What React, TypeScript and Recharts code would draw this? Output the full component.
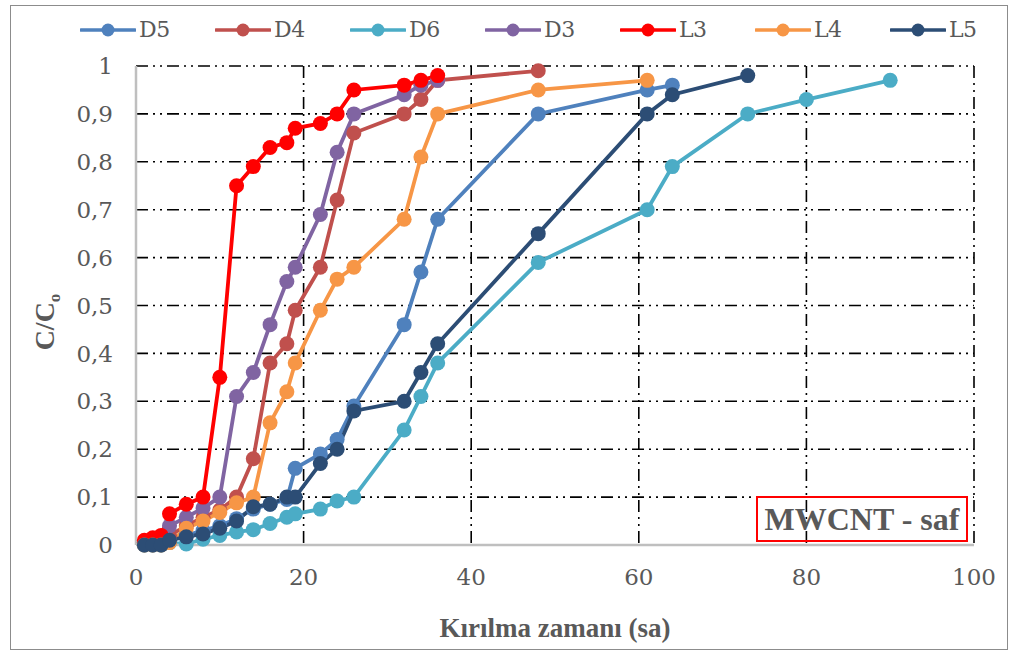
import { LineChart, Line, XAxis, YAxis, CartesianGrid } from "recharts";

// time (sa) values
const tBase = [1, 2, 3, 4, 6, 8, 10, 12, 14, 16, 18, 19, 22, 24, 26, 32, 34, 36];
const tD5 = [...tBase, 48, 61, 64];
const tD4 = [...tBase, 48];
const tD6 = [...tBase, 48, 61, 64, 73, 80, 90];
const tD3 = [...tBase];
const tL3 = [...tBase];
const tL4 = [...tBase, 48, 61];
const tL5 = [...tBase, 48, 61, 64, 73];

// C/C0 values
const cD5 = [0, 0, 0, 0.01, 0.02, 0.03, 0.04, 0.055, 0.075, 0.085, 0.095, 0.16, 0.19, 0.22, 0.29, 0.46, 0.57, 0.68, 0.9, 0.95, 0.96];
const cD4 = [0.005, 0.01, 0.01, 0.02, 0.04, 0.058, 0.073, 0.1, 0.18, 0.38, 0.42, 0.49, 0.58, 0.72, 0.86, 0.9, 0.93, 0.97, 0.99];
const cD6 = [0, 0, 0, 0.005, 0.002, 0.012, 0.02, 0.027, 0.032, 0.045, 0.058, 0.065, 0.075, 0.092, 0.1, 0.24, 0.31, 0.38, 0.59, 0.7, 0.79, 0.9, 0.93, 0.97];
const cD3 = [0.005, 0.005, 0.01, 0.04, 0.058, 0.077, 0.1, 0.31, 0.36, 0.46, 0.55, 0.58, 0.69, 0.82, 0.9, 0.94, 0.96, 0.97];
const cL3 = [0.01, 0.015, 0.02, 0.065, 0.085, 0.1, 0.35, 0.75, 0.79, 0.83, 0.84, 0.87, 0.88, 0.9, 0.95, 0.96, 0.97, 0.98];
const cL4 = [0, 0, 0, 0.005, 0.035, 0.05, 0.068, 0.088, 0.1, 0.255, 0.32, 0.38, 0.49, 0.555, 0.58, 0.68, 0.81, 0.9, 0.95, 0.97];
const cL5 = [0, 0, 0, 0.01, 0.017, 0.023, 0.035, 0.05, 0.08, 0.085, 0.1, 0.1, 0.17, 0.2, 0.28, 0.3, 0.36, 0.42, 0.65, 0.9, 0.94, 0.98];

const seriesNames = ["D5", "D4", "D6", "D3", "L3", "L4", "L5"];
const seriesColors = ["#4F81BD", "#C0504D", "#4BACC6", "#8064A2", "#FF0000", "#F79646", "#2C4D75"];
const seriesTimes = [tD5, tD4, tD6, tD3, tL3, tL4, tL5];
const seriesValues = [cD5, cD4, cD6, cD3, cL3, cL4, cL5];

const xTicks = [0, 20, 40, 60, 80, 100];
const yTicks = [0, 0.1, 0.2, 0.3, 0.4, 0.5, 0.6, 0.7, 0.8, 0.9, 1];

const series = seriesNames.map((name, i) => ({
  name,
  color: seriesColors[i],
  points: seriesTimes[i].map((t, j) => ({ t, v: seriesValues[i][j] })),
}));

// regular Liberation Serif seems to fall back to a sans face here, so DejaVu Serif for regular text
const FONT = "'Times New Roman', 'Liberation Serif', serif";
const FONT_REG = "'DejaVu Serif', serif";
const GRAY = "#595959";

const fmtY = (v: number) => (v === 0 ? "0" : v === 1 ? "1" : v.toFixed(1).replace(".", ","));

export default function App() {
  return (
    <div style={{ position: "absolute", left: 0, top: 0, width: 1012, height: 651, background: "#fff", fontFamily: FONT }}>
      {/* outer frame */}
      <div style={{ position: "absolute", left: 10, top: 5, width: 996, height: 643, border: "1.5px solid #8c8c8c" }} />

      {/* legend */}
      {series.map((s, i) => {
        const cx = 108 + 135 * i;
        return (
          <div key={s.name} style={{ position: "absolute", left: cx - 28, top: 12, height: 36, display: "flex", alignItems: "center" }}>
            <svg width={56} height={20}>
              <line x1={1} y1={10} x2={55} y2={10} stroke={s.color} strokeWidth={3.5} strokeLinecap="round" />
              <circle cx={28} cy={10} r={6.5} fill={s.color} />
            </svg>
            <span style={{ marginLeft: 3, fontSize: 22, fontFamily: FONT_REG, color: GRAY, lineHeight: "36px", letterSpacing: -0.5 }}>{s.name}</span>
          </div>
        );
      })}

      <LineChart width={1012} height={651} margin={{ top: 66, right: 38, left: 0, bottom: 0 }} style={{ position: "absolute", left: 0, top: 0 }}>
        <CartesianGrid stroke="#000" strokeWidth={1.6} strokeDasharray="12 5 2 5 2 5" />
        <XAxis
          type="number"
          dataKey="t"
          domain={[0, 100]}
          ticks={xTicks}
          height={106}
          tickSize={0}
          tickMargin={24}
          axisLine={{ stroke: "#bfbfbf", strokeWidth: 2.5 }}
          tick={{ fontSize: 23, fill: GRAY, fontFamily: FONT_REG }}
          allowDataOverflow
        />
        <YAxis
          type="number"
          domain={[0, 1]}
          ticks={yTicks}
          width={136}
          tickSize={0}
          tickMargin={23}
          tickFormatter={fmtY}
          axisLine={{ stroke: "#bfbfbf", strokeWidth: 2.5 }}
          tick={{ fontSize: 23, fill: GRAY, fontFamily: FONT_REG }}
        />
        {series.map((s) => (
          <Line
            key={s.name}
            data={s.points}
            dataKey="v"
            name={s.name}
            stroke={s.color}
            strokeWidth={3.8}
            dot={{ r: 7.5, fill: s.color, stroke: s.color, strokeWidth: 0 }}
            activeDot={false}
            isAnimationActive={false}
          />
        ))}
      </LineChart>

      {/* y axis title */}
      <div
        style={{
          position: "absolute",
          left: 47,
          top: 322,
          transform: "translate(-50%, -50%) rotate(-90deg)",
          fontSize: 28,
          fontWeight: "bold",
          color: GRAY,
          whiteSpace: "nowrap",
        }}
      >
        C/C<sub style={{ fontSize: 17 }}>o</sub>
      </div>

      {/* x axis title */}
      <div
        style={{
          position: "absolute",
          left: 555,
          top: 628,
          transform: "translate(-50%, -50%)",
          fontSize: 27,
          fontWeight: "bold",
          color: GRAY,
          whiteSpace: "nowrap",
        }}
      >
        Kırılma zamanı (sa)
      </div>

      {/* annotation */}
      <div
        style={{
          position: "absolute",
          left: 756,
          top: 496,
          width: 208,
          height: 42,
          border: "2px solid #ff0000",
          display: "flex",
          alignItems: "center",
          justifyContent: "center",
          fontSize: 32,
          fontWeight: "bold",
          color: GRAY,
          whiteSpace: "nowrap",
        }}
      >
        MWCNT - saf
      </div>
    </div>
  );
}
